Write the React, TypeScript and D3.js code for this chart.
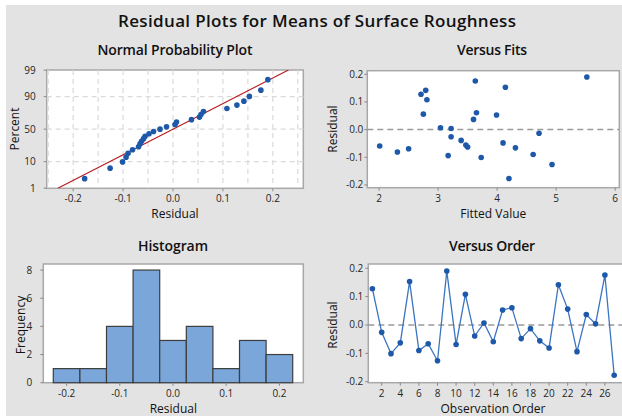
import React from 'react';
import * as d3 from 'd3';

// residuals by observation order
const residuals = [0.128, -0.026, -0.101, -0.063, 0.153, -0.09, -0.066, -0.126, 0.19, -0.069, 0.108, -0.039, 0.007, -0.059, 0.053, 0.061, -0.048, -0.013, -0.056, -0.081, 0.142, 0.056, -0.094, 0.037, 0.004, 0.176, -0.177];
// fitted values for the same observations
const fitted = [2.71, 3.22, 3.73, 3.5, 4.14, 4.61, 4.31, 4.93, 5.52, 2.5, 2.81, 3.39, 3.04, 2.01, 3.99, 3.65, 4.1, 4.71, 3.47, 2.31, 2.79, 2.75, 3.17, 3.6, 3.22, 3.63, 4.2];

const histEdges = [-0.225, -0.175, -0.125, -0.075, -0.025, 0.025, 0.075, 0.125, 0.175, 0.225];
const histCounts = [1, 1, 4, 8, 3, 4, 1, 3, 2];

const percentTicks = [1, 10, 50, 90, 99];
const percentGrid = [10, 50, 90];
const residTicks = [-0.2, -0.1, 0, 0.1, 0.2];
const residGrid = [-0.25, -0.2, -0.15, -0.1, -0.05, 0, 0.05, 0.1, 0.15, 0.2, 0.25];
const fitTicks = [2, 3, 4, 5, 6];
const freqTicks = [0, 2, 4, 6, 8];
const orderTicks = [2, 4, 6, 8, 10, 12, 14, 16, 18, 20, 22, 24, 26];

const FONT = "'Open Sans', 'Noto Sans', sans-serif";
const BLUE = '#1d59a8';
const FRAME = '#a8a8a8';
const TXT = '#262626';

// inverse normal cdf (Acklam)
function probit(p: number) {
  const a = [-39.69683028665376, 220.9460984245205, -275.9285104469687, 138.357751867269, -30.66479806614716, 2.506628277459239];
  const b = [-54.47609879822406, 161.5858368580409, -155.6989798598866, 66.80131188771670, -13.28068155288572];
  const c = [-0.007784894002430293, -0.3223964580411365, -2.400758277161838, -2.549732539343734, 4.374664141464968, 2.938163982698783];
  const d = [0.007784695709041462, 0.3224671290700398, 2.445134137142996, 3.754408661907416];
  const pl = 0.02425;
  if (p < pl) {
    const q = Math.sqrt(-2 * Math.log(p));
    return (((((c[0] * q + c[1]) * q + c[2]) * q + c[3]) * q + c[4]) * q + c[5]) / ((((d[0] * q + d[1]) * q + d[2]) * q + d[3]) * q + 1);
  }
  if (p <= 1 - pl) {
    const q = p - 0.5, r = q * q;
    return (((((a[0] * r + a[1]) * r + a[2]) * r + a[3]) * r + a[4]) * r + a[5]) * q / (((((b[0] * r + b[1]) * r + b[2]) * r + b[3]) * r + b[4]) * r + 1);
  }
  const q = Math.sqrt(-2 * Math.log(1 - p));
  return -(((((c[0] * q + c[1]) * q + c[2]) * q + c[3]) * q + c[4]) * q + c[5]) / ((((d[0] * q + d[1]) * q + d[2]) * q + d[3]) * q + 1);
}

const fmt1 = (v: number) => v.toFixed(1);

function Frame({ x0, x1, y0, y1 }: any) {
  return <rect x={x0} y={y0} width={x1 - x0} height={y1 - y0} fill="#fff" stroke={FRAME} strokeWidth={1.5} />;
}

function BottomAxis({ scale, ticks, y, fmt }: any) {
  return (
    <g>
      {ticks.map((t: number) => (
        <g key={t}>
          <line x1={scale(t)} x2={scale(t)} y1={y} y2={y + 3} stroke="#888" />
          <text x={scale(t)} y={y + 14} textAnchor="middle" fontSize={10} fill={TXT}>{fmt(t)}</text>
        </g>
      ))}
    </g>
  );
}

function LeftAxis({ scale, ticks, x, gap, fmt }: any) {
  return (
    <g>
      {ticks.map((t: number) => (
        <g key={t}>
          <line x1={x - 3} x2={x} y1={scale(t)} y2={scale(t)} stroke="#888" />
          <text x={x - gap} y={scale(t)} dy="0.35em" textAnchor="end" fontSize={10} fill={TXT}>{fmt(t)}</text>
        </g>
      ))}
    </g>
  );
}

function Titles({ x0, x1, y1, title, titleY, titleX, xlab, xlabY, ylab, ylabX, titleLen }: any) {
  const cx = (x0 + x1) / 2;
  const cy = (titleY < 100 ? 129 : 325);
  return (
    <g>
      <text x={titleX ?? cx} y={titleY} textAnchor="middle" fontSize={14} fontWeight={600} fill="#111" textLength={titleLen}>{title}</text>
      <text x={cx} y={xlabY ?? y1 + 30} textAnchor="middle" fontSize={12} fill="#111">{xlab}</text>
      <text transform={`translate(${ylabX},${cy}) rotate(-90)`} textAnchor="middle" dy="0.35em" fontSize={12} fill="#111">{ylab}</text>
    </g>
  );
}

function NormalPlot() {
  const b = { x0: 46.7, x1: 303.3, y0: 70, y1: 188.3 };
  const x = d3.scaleLinear().domain([-0.253, 0.261]).range([b.x0, b.x1]);
  const y = d3.scaleLinear().domain([probit(0.01) - 0.005, probit(0.99) + 0.005]).range([b.y1, b.y0]);
  const n = residuals.length;
  const sorted = d3.sort(residuals);
  const pts = sorted.map((v, i) => ({ v, z: probit((i + 1 - 0.3) / (n + 0.4)) }));
  const mu = d3.mean(residuals) as number;
  const sd = d3.deviation(residuals) as number;
  const [zl, zh] = y.domain();
  return (
    <g>
      <Frame {...b} />
      <clipPath id="npclip"><rect x={b.x0} y={b.y0} width={b.x1 - b.x0} height={b.y1 - b.y0} /></clipPath>
      {residGrid.map(g => (
        <line key={g} x1={x(g)} x2={x(g)} y1={b.y0} y2={b.y1} stroke="#dadada" strokeWidth={1.2} strokeDasharray="5,4" />
      ))}
      {percentGrid.map(p => (
        <line key={p} x1={b.x0} x2={b.x1} y1={y(probit(p / 100))} y2={y(probit(p / 100))} stroke="#dadada" strokeWidth={1.2} strokeDasharray="5,4" />
      ))}
      <line clipPath="url(#npclip)" x1={x(mu + zl * sd)} y1={y(zl)} x2={x(mu + zh * sd)} y2={y(zh)} stroke="#b3191e" strokeWidth={1.1} />
      {pts.map((d, i) => <circle key={i} cx={x(d.v)} cy={y(d.z)} r={2.8} fill={BLUE} />)}
      <BottomAxis scale={x} ticks={residTicks} y={b.y1} fmt={fmt1} />
      <LeftAxis scale={(p: number) => y(probit(p / 100))} ticks={percentTicks} x={b.x0} gap={11} fmt={String} />
      <Titles {...b} title="Normal Probability Plot" titleY={54.7} xlab="Residual" ylab="Percent" ylabX={15} titleLen={155} />
    </g>
  );
}

function FitsPlot() {
  const b = { x0: 367.3, x1: 619.3, y0: 70.7, y1: 187.7 };
  const x = d3.scaleLinear().domain([1.8, 6.07]).range([b.x0, b.x1]);
  const y = d3.scaleLinear().domain([-0.21, 0.213]).range([b.y1, b.y0]);
  return (
    <g>
      <Frame {...b} />
      <line x1={b.x0} x2={b.x1} y1={y(0)} y2={y(0)} stroke="#9a9a9a" strokeWidth={1.5} strokeDasharray="6,4" />
      {residuals.map((r, i) => <circle key={i} cx={x(fitted[i])} cy={y(r)} r={2.8} fill={BLUE} />)}
      <BottomAxis scale={x} ticks={fitTicks} y={b.y1} fmt={String} />
      <LeftAxis scale={y} ticks={residTicks} x={b.x0} gap={4} fmt={fmt1} />
      <Titles {...b} title="Versus Fits" titleY={54.7} titleX={492} xlab="Fitted Value" ylab="Residual" ylabX={333} titleLen={70} />
    </g>
  );
}

function HistPlot() {
  const b = { x0: 43.3, x1: 303.3, y0: 264, y1: 382.7 };
  const x = d3.scaleLinear().domain([-0.2438, 0.2449]).range([b.x0, b.x1]);
  const y = d3.scaleLinear().domain([0, 8.43]).range([b.y1, b.y0]);
  return (
    <g>
      <Frame {...b} />
      {histCounts.map((c, i) => (
        <rect key={i} x={x(histEdges[i])} y={y(c)} width={x(histEdges[i + 1]) - x(histEdges[i])} height={y(0) - y(c)}
          fill="#7ba6da" stroke="#3d3d3d" strokeWidth={1.2} />
      ))}
      <BottomAxis scale={x} ticks={residTicks} y={b.y1} fmt={fmt1} />
      <LeftAxis scale={y} ticks={freqTicks} x={b.x0} gap={11} fmt={String} />
      <Titles {...b} title="Histogram" titleY={251.3} titleX={173} xlab="Residual" xlabY={413} ylab="Frequency" ylabX={21} titleLen={70} />
    </g>
  );
}

function OrderPlot() {
  const b = { x0: 368.3, x1: 630, y0: 264, y1: 382.7 };
  const x = d3.scaleLinear().domain([0.56, 28.7]).range([b.x0, b.x1]);
  const y = d3.scaleLinear().domain([-0.2035, 0.215]).range([b.y1, b.y0]);
  const line = d3.line<number>().x((_, i) => x(i + 1)).y(r => y(r));
  return (
    <g>
      <Frame {...b} />
      <line x1={b.x0} x2={b.x1} y1={y(0)} y2={y(0)} stroke="#9a9a9a" strokeWidth={1.5} strokeDasharray="6,4" />
      <path d={line(residuals) as string} fill="none" stroke="#3a74c2" strokeWidth={1.3} />
      {residuals.map((r, i) => <circle key={i} cx={x(i + 1)} cy={y(r)} r={2.8} fill={BLUE} />)}
      <BottomAxis scale={x} ticks={orderTicks} y={b.y1} fmt={String} />
      <LeftAxis scale={y} ticks={residTicks} x={b.x0} gap={5} fmt={fmt1} />
      <g>
        <text x={492} y={251.3} textAnchor="middle" fontSize={14} fontWeight={600} fill="#111" textLength={86}>Versus Order</text>
        <text x={493} y={413} textAnchor="middle" fontSize={12} fill="#111">Observation Order</text>
        <text transform={`translate(333,325) rotate(-90)`} textAnchor="middle" dy="0.35em" fontSize={12} fill="#111">Residual</text>
      </g>
    </g>
  );
}

export default function App() {
  return (
    <svg width={622} height={416} style={{ position: 'absolute', left: 0, top: 0 }} fontFamily={FONT}>
      <rect x={0} y={0} width={622} height={416} fill="#fff" />
      <rect x={6} y={5} width={616} height={411} fill="#e3e3e3" />
      <text x={317} y={27} textAnchor="middle" fontSize={17} fontWeight={600} fill="#111" textLength={398}>
        Residual Plots for Means of Surface Roughness
      </text>
      <NormalPlot />
      <FitsPlot />
      <HistPlot />
      <OrderPlot />
    </svg>
  );
}
